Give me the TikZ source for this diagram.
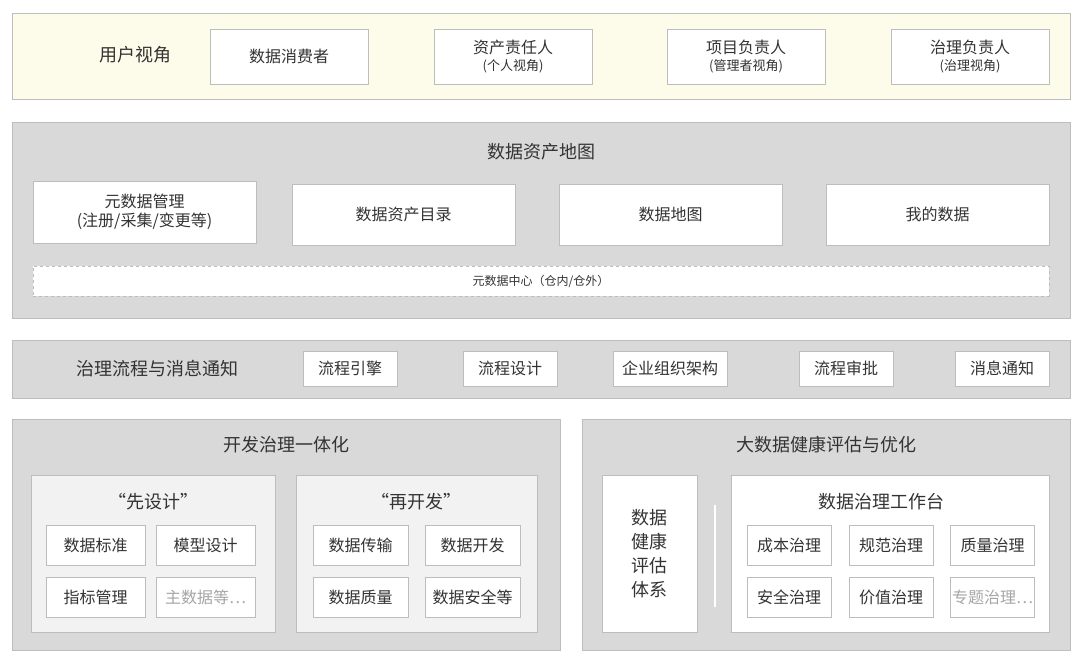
\documentclass[tikz,border=0pt]{standalone}
\usepackage{fontspec}
\setmainfont{Noto Sans CJK SC}
\definecolor{bandgray}{HTML}{D9D9D9}
\definecolor{linegray}{HTML}{BDBDBD}
\definecolor{paleyellow}{HTML}{FDFBE9}
\definecolor{innergray}{HTML}{F2F2F2}
\definecolor{textgray}{HTML}{333333}
\tikzset{
  band/.style={draw=linegray,fill=bandgray,line width=1pt},
  box/.style={draw=linegray,fill=white,line width=1pt,inner sep=0pt,align=center,text=textgray,font=\fontsize{16}{19}\selectfont},
  faded/.style={box,text=black!35},
  title/.style={text=textgray,font=\fontsize{18}{21}\selectfont},
  small/.style={font=\fontsize{12}{14}\selectfont}
}
\begin{document}
\begin{tikzpicture}[x=1pt,y=-1pt]
  \path[fill=white] (0,0) rectangle (1080,659);
  % user view
  \draw[draw=linegray,fill=paleyellow,line width=1pt] (12,13) rectangle (1070,99);
  \node[title] (user) at (135,55) {用户视角};
  \node[box,minimum width=158,minimum height=55] (consumer) at (289,56.5) {数据消费者};
  \node[box,minimum width=158,minimum height=55] (owner) at (513,56.5) {资产责任人\\[-2pt]{\fontsize{13}{15}\selectfont (个人视角)}};
  \node[box,minimum width=158,minimum height=55] (pm) at (746,56.5) {项目负责人\\[-2pt]{\fontsize{13}{15}\selectfont (管理者视角)}};
  \node[box,minimum width=158,minimum height=55] (gov) at (970,56.5) {治理负责人\\[-2pt]{\fontsize{13}{15}\selectfont (治理视角)}};
  % asset map
  \draw[band] (12,122) rectangle (1070,318);
  \node[title] (map) at (541,152) {数据资产地图};
  \node[box,minimum width=223,minimum height=62] (meta) at (144.5,212) {元数据管理\\(注册/采集/变更等)};
  \node[box,minimum width=223,minimum height=61] (catalog) at (403.5,214.5) {数据资产目录};
  \node[box,minimum width=223,minimum height=61] (datamap) at (670.5,214.5) {数据地图};
  \node[box,minimum width=223,minimum height=61] (mine) at (937.5,214.5) {我的数据};
  \node[box,dashed,small,minimum width=1016,minimum height=30] (center) at (541,281) {元数据中心（仓内/仓外）};
  % workflow
  \draw[band] (12,340) rectangle (1070,398);
  \node[title] (flow) at (157,369) {治理流程与消息通知};
  \node[box,minimum width=94,minimum height=35] (engine) at (350,368.5) {流程引擎};
  \node[box,minimum width=94,minimum height=35] (design) at (510,368.5) {流程设计};
  \node[box,minimum width=114,minimum height=35] (org) at (670,368.5) {企业组织架构};
  \node[box,minimum width=94,minimum height=35] (approve) at (846,368.5) {流程审批};
  \node[box,minimum width=94,minimum height=35] (notify) at (1002,368.5) {消息通知};
  % dev governance
  \draw[band] (12,419) rectangle (560,650);
  \node[title] (devgov) at (286,445) {开发治理一体化};
  \draw[draw=linegray,fill=innergray,line width=1pt] (31,475) rectangle (275,632);
  \node[title] (first) at (153,502) {“先设计”};
  \node[box,minimum width=99,minimum height=40] (std) at (95.5,545) {数据标准};
  \node[box,minimum width=99,minimum height=40] (model) at (205.5,545) {模型设计};
  \node[box,minimum width=99,minimum height=40] (metric) at (95.5,597) {指标管理};
  \node[faded,minimum width=99,minimum height=40] (master) at (205.5,597) {主数据等…};
  \draw[draw=linegray,fill=innergray,line width=1pt] (296,475) rectangle (537,632);
  \node[title] (then) at (416,502) {“再开发”};
  \node[box,minimum width=95,minimum height=40] (trans) at (360.5,545) {数据传输};
  \node[box,minimum width=95,minimum height=40] (dev) at (472.5,545) {数据开发};
  \node[box,minimum width=95,minimum height=40] (quality) at (360.5,597) {数据质量};
  \node[box,minimum width=95,minimum height=40] (security) at (472.5,597) {数据安全等};
  % health
  \draw[band] (582,419) rectangle (1070,650);
  \node[title] (health) at (826,445) {大数据健康评估与优化};
  \node[box,font=\fontsize{18}{24}\selectfont,minimum width=95,minimum height=157] (system) at (649.5,553.5) {数据\\健康\\评估\\体系};
  \coordinate (sepTop) at (715,505);
  \coordinate (sepBot) at (715,607);
  \draw[white,line width=2pt] (sepTop) -- (sepBot);
  \node[box,minimum width=318,minimum height=157] (bench) at (890,553.5) {};
  \node[title] (benchtitle) at (881,502) {数据治理工作台};
  \node[box,minimum width=84,minimum height=40] (cost) at (789,545) {成本治理};
  \node[box,minimum width=84,minimum height=40] (norm) at (891,545) {规范治理};
  \node[box,minimum width=84,minimum height=40] (qgov) at (992.5,545) {质量治理};
  \node[box,minimum width=84,minimum height=40] (sgov) at (789,597) {安全治理};
  \node[box,minimum width=84,minimum height=40] (vgov) at (891,597) {价值治理};
  \node[faded,minimum width=84,minimum height=40] (topic) at (992.5,597) {专题治理…};
\end{tikzpicture}
\end{document}
